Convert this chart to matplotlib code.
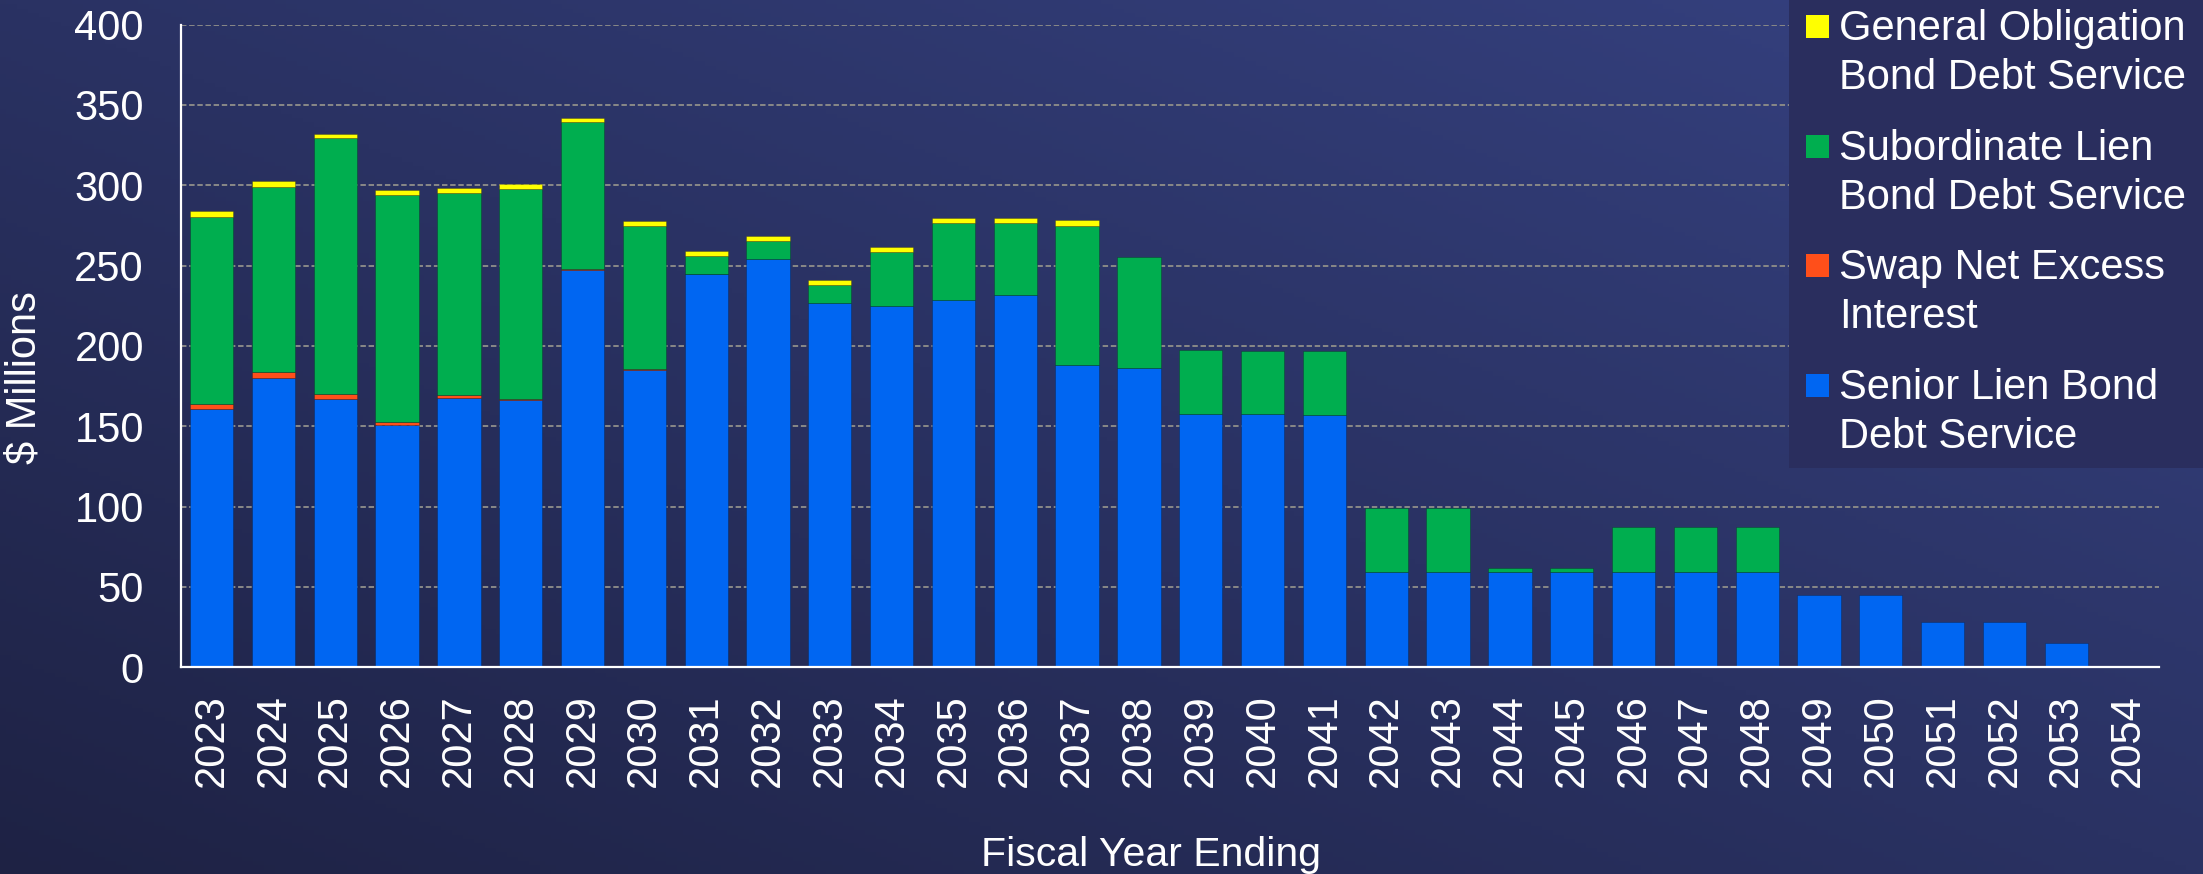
import matplotlib
matplotlib.use("Agg")
import matplotlib.pyplot as plt
import numpy as np
from matplotlib.patches import Rectangle

plt.rcParams['font.family'] = ['Liberation Sans', 'DejaVu Sans']

# ---------------- data ----------------
years = [str(y) for y in range(2023, 2055)]
senior = [160.7, 180.0, 167.1, 150.5, 167.6, 166.4, 247.1, 185.0, 244.6, 254.3,
          226.4, 224.8, 228.8, 231.7, 188.1, 186.2, 157.6, 157.5, 157.3, 59.1,
          59.1, 59.1, 59.1, 59.1, 59.1, 59.3, 44.8, 44.8, 28.4, 28.4, 14.9, 0.0]
swap = [3.2, 3.6, 2.9, 2.1, 1.7, 0.7, 1.0, 0.5, 0.3, 0.0,
        0.0, 0.0, 0.0, 0.0, 0.0, 0.0, 0.0, 0.0, 0.0, 0.0,
        0.0, 0.0, 0.0, 0.0, 0.0, 0.0, 0.0, 0.0, 0.0, 0.0, 0.0, 0.0]
subordinate = [116.6, 115.4, 159.1, 141.3, 126.0, 130.5, 91.0, 89.1, 10.9, 10.9,
               11.2, 33.5, 47.9, 45.0, 86.7, 69.3, 39.6, 39.6, 39.8, 40.1,
               40.1, 2.9, 2.9, 28.5, 28.3, 28.2, 0.0, 0.0, 0.0, 0.0, 0.0, 0.0]
general_obligation = [3.4, 3.4, 3.0, 3.0, 3.1, 3.4, 3.0, 3.3, 3.3, 3.1,
                      3.1, 3.1, 3.1, 2.6, 3.3, 0.0, 0.0, 0.0, 0.0, 0.0,
                      0.0, 0.0, 0.0, 0.0, 0.0, 0.0, 0.0, 0.0, 0.0, 0.0, 0.0, 0.0]
series_names = ["Senior Lien Bond\nDebt Service", "Swap Net Excess\nInterest",
                "Subordinate Lien\nBond Debt Service", "General Obligation\nBond Debt Service"]
series_colors = ["#0066F2", "#FF4F1A", "#00AE4F", "#FFFF00"]
y_ticks = [0, 50, 100, 150, 200, 250, 300, 350, 400]

W, H = 2203, 874
fig = plt.figure(figsize=(W / 100, H / 100), dpi=100)

def fx(x):
    return x / W

def fy(y):
    return 1 - y / H

# ---------------- background gradient ----------------
bg = fig.add_axes([0, 0, 1, 1], zorder=-10)
gx, gy = np.meshgrid(np.linspace(0, 1, 400), np.linspace(0, 1, 200))
t = 0.5 * gx + 0.5 * (1 - gy)  # top-right light, bottom-left dark
c0 = np.array([30, 34, 68]) / 255
c1 = np.array([54, 66, 130]) / 255
img = c0[None, None, :] + (c1 - c0)[None, None, :] * t[:, :, None]
bg.imshow(img, aspect='auto', extent=[0, 1, 0, 1], origin='upper')
bg.set_axis_off()

# ---------------- main axes ----------------
ax = fig.add_axes([fx(180.7), fy(667.3), fx(2159) - fx(180.7), fy(24.5) - fy(667.3)])
ax.set_facecolor('none')

x = np.arange(len(years))
bottom = np.zeros(len(years))
for vals, name, col in zip([senior, swap, subordinate, general_obligation],
                           series_names, series_colors):
    vals = np.array(vals)
    lw = [0.7 if v > 0 else 0 for v in vals]
    ax.bar(x, vals, width=0.70, bottom=bottom, color=col, label=name,
           edgecolor=(0, 0, 0, 0.22), linewidth=lw, zorder=3)
    bottom = bottom + vals

ax.set_xlim(-0.5, len(years) - 0.5)
ax.set_ylim(0, 400)
ax.set_yticks(y_ticks)
ax.set_xticks(x)
ax.set_xticklabels(years, rotation=90)
ax.tick_params(axis='y', length=0, pad=26.5, labelsize=30, labelcolor='white')
ax.tick_params(axis='x', length=0, pad=19.5, labelsize=30, labelcolor='white')

ax.yaxis.grid(True, color='#868686', linestyle=(0, (2.7, 1.35)), linewidth=1.45, zorder=0)
ax.set_axisbelow(True)
for s in ['top', 'right']:
    ax.spines[s].set_visible(False)
for s in ['left', 'bottom']:
    ax.spines[s].set_color('white')
    ax.spines[s].set_linewidth(1.6)
    ax.spines[s].set_zorder(5)

ax.set_xlabel("Fiscal Year Ending", fontsize=29.5, color='white')
ax.xaxis.set_label_coords(fx(1151), fy(866), transform=fig.transFigure)
ax.xaxis.label.set_verticalalignment('baseline')
ax.set_ylabel("$ Millions", fontsize=30, color='white')
ax.yaxis.set_label_coords(fx(24.5), fy(377.5), transform=fig.transFigure)
ax.yaxis.label.set_verticalalignment('center')

# ---------------- legend (drawn to match reference layout) ----------------
fig.patches.append(Rectangle((fx(1789), fy(468)), 1 - fx(1789), fy(0) - fy(468),
                             transform=fig.transFigure, facecolor='#2a2e5e',
                             edgecolor='none', zorder=1))
step = 119.6
for i, (name, col) in enumerate(zip(series_names[::-1], series_colors[::-1])):
    top = 15 + i * step
    fig.patches.append(Rectangle((fx(1805.7), fy(top + 23)), fx(23.3), fy(top) - fy(top + 23),
                                 transform=fig.transFigure, facecolor=col,
                                 edgecolor='none', zorder=2))
    fig.text(fx(1839.3), fy(9 + i * step), name, fontsize=30, color='white',
             va='top', ha='left', linespacing=1.29, zorder=3)

fig.savefig("out.png", dpi=100)
